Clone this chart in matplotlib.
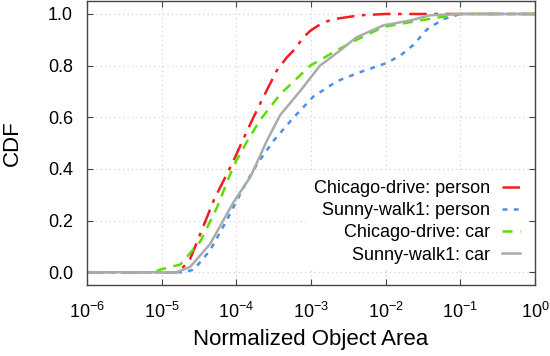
import numpy as np
import matplotlib.pyplot as plt

plt.rcParams['font.family'] = ['Liberation Sans', 'DejaVu Sans']
plt.rcParams['mathtext.default'] = 'regular'

# log10 of normalized area vs CDF
chi_person_x = [-6.0, -4.77, -4.62, -4.48, -4.30, -4.04, -3.90, -3.77, -3.60, -3.46, -3.33, -3.23, -3.10, -3.01, -2.85, -2.70, -2.34, -2.0, -1.5, 0.0]
chi_person_y = [0.0, 0.0, 0.05, 0.15, 0.28, 0.43, 0.52, 0.60, 0.70, 0.78, 0.83, 0.86, 0.91, 0.935, 0.965, 0.98, 0.995, 1.0, 1.0, 1.0]

sun_person_x = [-6.0, -4.70, -4.57, -4.35, -4.13, -3.90, -3.72, -3.50, -3.23, -2.97, -2.65, -2.34, -1.99, -1.80, -1.63, -1.45, -1.23, -1.0, 0.0]
sun_person_y = [0.0, 0.0, 0.01, 0.085, 0.20, 0.33, 0.42, 0.51, 0.60, 0.68, 0.74, 0.775, 0.81, 0.84, 0.88, 0.94, 0.98, 1.0, 1.0]

chi_car_x = [-6.0, -5.10, -5.02, -4.75, -4.48, -4.26, -4.04, -3.85, -3.68, -3.41, -3.01, -2.65, -2.39, -2.03, -1.54, -1.0, 0.0]
chi_car_y = [0.0, 0.0, 0.01, 0.03, 0.12, 0.25, 0.41, 0.51, 0.59, 0.69, 0.80, 0.86, 0.90, 0.95, 0.975, 1.0, 1.0]

sun_car_x = [-6.0, -4.80, -4.62, -4.35, -4.04, -3.81, -3.59, -3.41, -3.15, -2.88, -2.65, -2.39, -2.03, -1.67, -1.41, -1.0, 0.0]
sun_car_y = [0.0, 0.0, 0.02, 0.11, 0.27, 0.37, 0.51, 0.61, 0.70, 0.80, 0.85, 0.91, 0.956, 0.975, 0.995, 1.0, 1.0]

fig = plt.figure(figsize=(5.5, 3.56), dpi=100)
ax = fig.add_axes([0.158, 0.199, 0.815, 0.798])

ax.plot(10 ** np.array(chi_person_x), chi_person_y, color='#f01e1e', lw=1.8,
        dashes=(7, 3, 1.5, 3), label='Chicago-drive: person')
ax.plot(10 ** np.array(sun_person_x), sun_person_y, color='#4a90e8', lw=1.8,
        dashes=(2, 2.5), label='Sunny-walk1: person')
ax.plot(10 ** np.array(chi_car_x), chi_car_y, color='#5ddc0a', lw=1.8,
        dashes=(4, 3), label='Chicago-drive: car')
ax.plot(10 ** np.array(sun_car_x), sun_car_y, color='#a9adaa', lw=1.8,
        label='Sunny-walk1: car')

ax.set_xscale('log')
ax.set_xlim(1e-6, 1)
ax.set_ylim(-0.05, 1.05)
ax.set_xticks([1e-6, 1e-5, 1e-4, 1e-3, 1e-2, 1e-1, 1])
ax.set_xticklabels(['$10^{-6}$', '$10^{-5}$', '$10^{-4}$', '$10^{-3}$',
                    '$10^{-2}$', '$10^{-1}$', '$10^{0}$'])
ax.xaxis.set_minor_locator(plt.NullLocator())
ax.set_yticks([0, 0.2, 0.4, 0.6, 0.8, 1.0])
ax.set_yticklabels(['0.0', '0.2', '0.4', '0.6', '0.8', '1.0'])

ax.tick_params(direction='in', top=True, right=True, length=4, width=0.8,
               color='#444444', labelsize=13)
ax.tick_params(axis='x', pad=12)
ax.tick_params(axis='y', pad=10)
for s in ax.spines.values():
    s.set_color('#444444')
    s.set_linewidth(1.0)
ax.grid(True, color='#cccccc', linestyle=(0, (1, 3)), lw=0.8)
ax.set_axisbelow(True)

ax.set_xlabel('Normalized Object Area', fontsize=16, labelpad=5)
ax.set_ylabel('CDF', fontsize=16, labelpad=18)

leg = ax.legend(loc='lower right', bbox_to_anchor=(1.0, 0.024), fontsize=13,
                markerfirst=False, frameon=True,
                framealpha=1, edgecolor='none', facecolor='white',
                handlelength=1.0, handletextpad=0.7, labelspacing=0.28,
                borderaxespad=0.42, borderpad=0.4)
for t in leg.get_texts():
    t.set_ha('right')
leg._legend_box.align = 'right'

fig.savefig('out.png', dpi=100)
